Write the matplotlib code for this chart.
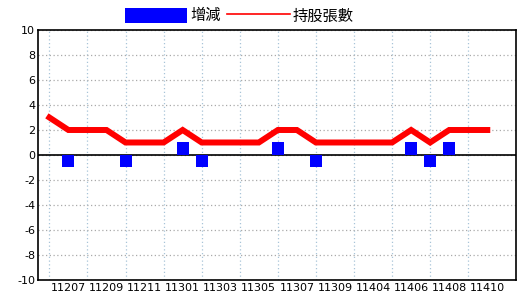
import matplotlib
matplotlib.use('Agg')
import matplotlib.pyplot as plt
from matplotlib.patches import Patch
from matplotlib.lines import Line2D
import numpy as np

plt.rcParams['font.family'] = ['Noto Sans CJK TC', 'DejaVu Sans']
plt.rcParams['axes.unicode_minus'] = False

months = ['11206', '11207', '11208', '11209', '11210', '11211', '11212', '11301',
          '11302', '11303', '11304', '11305', '11306', '11307', '11308', '11309',
          '11310', '11404', '11405', '11406', '11407', '11408', '11409', '11410']
holdings = [3, 2, 2, 2, 1, 1, 1, 2, 1, 1, 1, 1, 2, 2, 1, 1, 1, 1, 1, 2, 1, 2, 2, 2]
change = [0, -1, 0, 0, -1, 0, 0, 1, -1, 0, 0, 0, 1, 0, -1, 0, 0, 0, 0, 1, -1, 1, 0, 0]

x = np.arange(len(months))

fig = plt.figure(figsize=(5.2, 3.0), dpi=100)
ax = fig.add_axes([0.073, 0.0667, 0.919, 0.8333])

ax.bar(x, change, width=0.63, color='#0000ff', zorder=3)
ax.plot(x, holdings, color='#ff0000', lw=4.3, zorder=4, solid_joinstyle='miter')
ax.axhline(0, color='black', lw=1.2, zorder=2)

ax.set_xlim(-0.6, 24.5)
ax.set_ylim(-10, 10)
ax.set_yticks(range(-10, 11, 2))
ax.set_xticks(x[1::2], months[1::2])
ax.set_xticks(x[0::2], minor=True)
ax.tick_params(axis='both', length=0, labelsize=8, pad=2)
ax.tick_params(axis='x', which='minor', length=0)
for lab in ax.get_xticklabels() + ax.get_yticklabels():
    lab.set_family('DejaVu Sans')

ax.grid(axis='y', which='major', color='#aaaaaa', ls=(0, (1, 2)), lw=0.9)
ax.grid(axis='x', which='minor', color='#a8c4d8', ls=(0, (1, 2)), lw=0.9)
ax.set_axisbelow(True)
for s in ax.spines.values():
    s.set_linewidth(1.2)

handles = [Patch(facecolor='#0000ff', edgecolor='none', label='增減'),
           Line2D([0], [0], color='#ff0000', lw=1.2, label='持股張數')]
fig.legend(handles=handles, loc='center', bbox_to_anchor=(0.46, 0.947), ncol=2,
           frameon=False, fontsize=11, handlelength=4.1, handleheight=1.1,
           handletextpad=0.2, columnspacing=0.4, borderpad=0)

fig.savefig('out.png', dpi=100)
